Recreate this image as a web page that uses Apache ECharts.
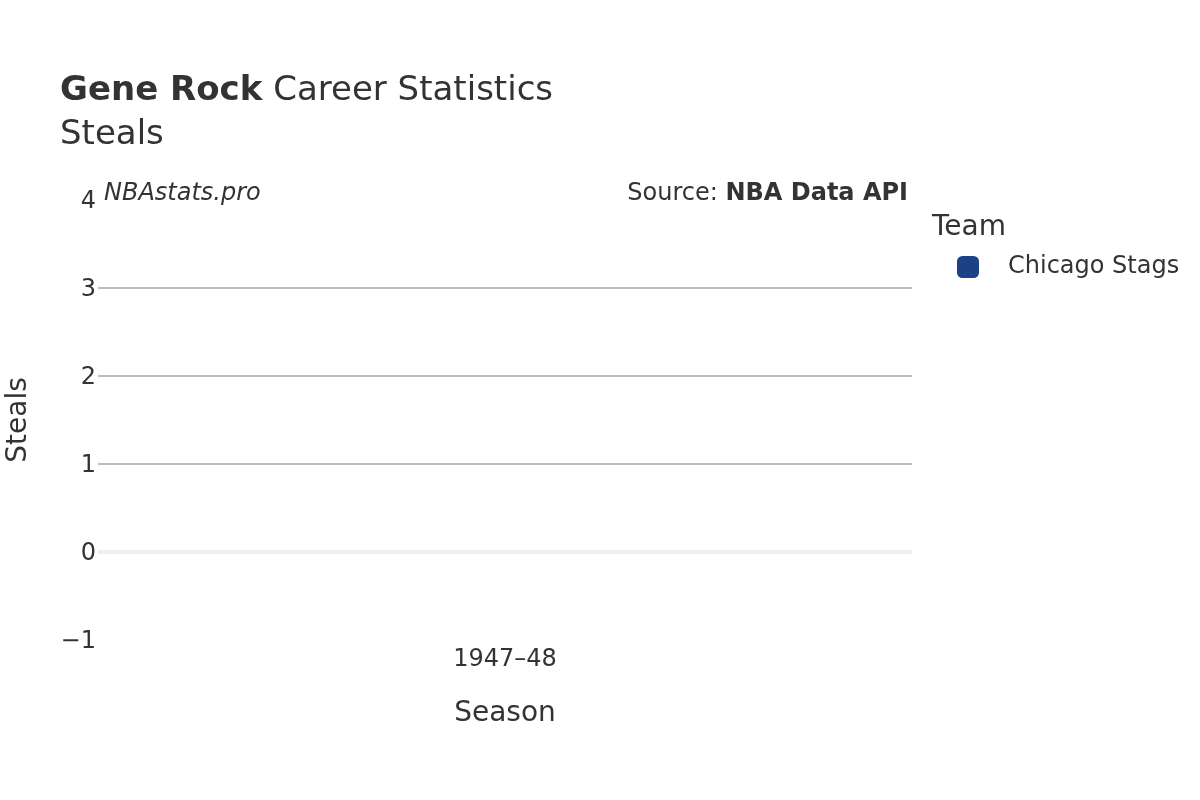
<!DOCTYPE html>
<html>
<head>
<meta charset="utf-8">
<script src="https://cdn.jsdelivr.net/npm/echarts@6/dist/echarts.min.js"></script>
<style>
  html, body { margin: 0; padding: 0; background: #fff; }
  #chart { width: 1200px; height: 800px; }
</style>
</head>
<body>
<div id="chart"></div>
<script>
var seasons = ['1947–48'];
var teams = ['Chicago Stags'];
var steals = [0];

var FONT = '"DejaVu Sans", sans-serif';
var TEXT = '#333';

var chart = echarts.init(document.getElementById('chart'));

var option = {
  backgroundColor: '#fff',
  textStyle: { fontFamily: FONT, color: TEXT },
  title: [
    {
      left: 60, top: 74, padding: 0,
      text: '{b|Gene Rock} {n|Career Statistics}',
      textStyle: {
        fontWeight: 'normal', fontSize: 34, fontFamily: FONT,
        rich: {
          b: { fontFamily: FONT, fontSize: 34, fontWeight: 'bold', color: TEXT },
          n: { fontFamily: FONT, fontSize: 34, fontWeight: 'normal', color: TEXT }
        }
      }
    },
    {
      left: 60, top: 118, padding: 0,
      text: 'Steals',
      textStyle: { fontFamily: FONT, fontSize: 34, fontWeight: 'normal', color: TEXT }
    },
    {
      left: 932, top: 214, padding: 0,
      text: 'Team',
      textStyle: { fontFamily: FONT, fontSize: 28, fontWeight: 'normal', color: TEXT }
    }
  ],
  graphic: [
    {
      type: 'text', left: 104, top: 182,
      style: { text: 'NBAstats.pro', font: 'italic 24px ' + FONT, fill: TEXT }
    },
    {
      type: 'text', right: 292, top: 182,
      style: {
        text: '{n|Source: }{b|NBA Data API}',
        rich: {
          n: { fontFamily: FONT, fontSize: 24, fill: TEXT },
          b: { fontFamily: FONT, fontSize: 24, fontWeight: 'bold', fill: TEXT }
        }
      }
    }
  ],
  legend: {
    left: 957, top: 255, padding: 0,
    orient: 'vertical',
    icon: 'roundRect',
    itemWidth: 22, itemHeight: 22,
    data: teams,
    textStyle: { fontFamily: FONT, fontSize: 24, color: TEXT, padding: [0, 0, 0, 24] }
  },
  grid: { left: 98, right: 288, top: 200, bottom: 160, outerBoundsMode: 'none' },
  xAxis: {
    type: 'category',
    data: seasons,
    name: 'Season',
    nameLocation: 'middle',
    nameGap: 60,
    nameTextStyle: { fontFamily: FONT, fontSize: 28, color: TEXT },
    axisLine: { show: false },
    axisTick: { show: false },
    axisLabel: { margin: 8, fontFamily: FONT, fontSize: 24, color: TEXT }
  },
  yAxis: {
    type: 'value',
    min: -1, max: 4, interval: 1,
    name: 'Steals',
    nameLocation: 'middle',
    nameGap: 65,
    nameTextStyle: { fontFamily: FONT, fontSize: 28, color: TEXT },
    axisLine: { show: false },
    axisTick: { show: false },
    axisLabel: {
      margin: 2, fontFamily: FONT, fontSize: 24, color: TEXT,
      formatter: function (v) { return '{t|' + String(v).replace('-', '\u2212') + '}'; },
      rich: {
        t: { fontFamily: FONT, fontSize: 24, color: TEXT, padding: [4, 0, 0, 0] }
      }
    },
    splitLine: {
      show: true, showMinLine: false, showMaxLine: false,
      lineStyle: { color: '#bfbfbf', width: 2 }
    }
  },
  series: teams.map(function (team) {
    return {
      name: team,
      type: 'bar',
      data: steals,
      barWidth: '60%',
      itemStyle: { color: '#1c4187' },
      markLine: {
        silent: true,
        symbol: 'none',
        label: { show: false },
        lineStyle: { color: '#eeeeee', width: 4, type: 'solid' },
        data: [{ yAxis: 0 }]
      }
    };
  })
};

chart.setOption(option);
</script>
</body>
</html>
